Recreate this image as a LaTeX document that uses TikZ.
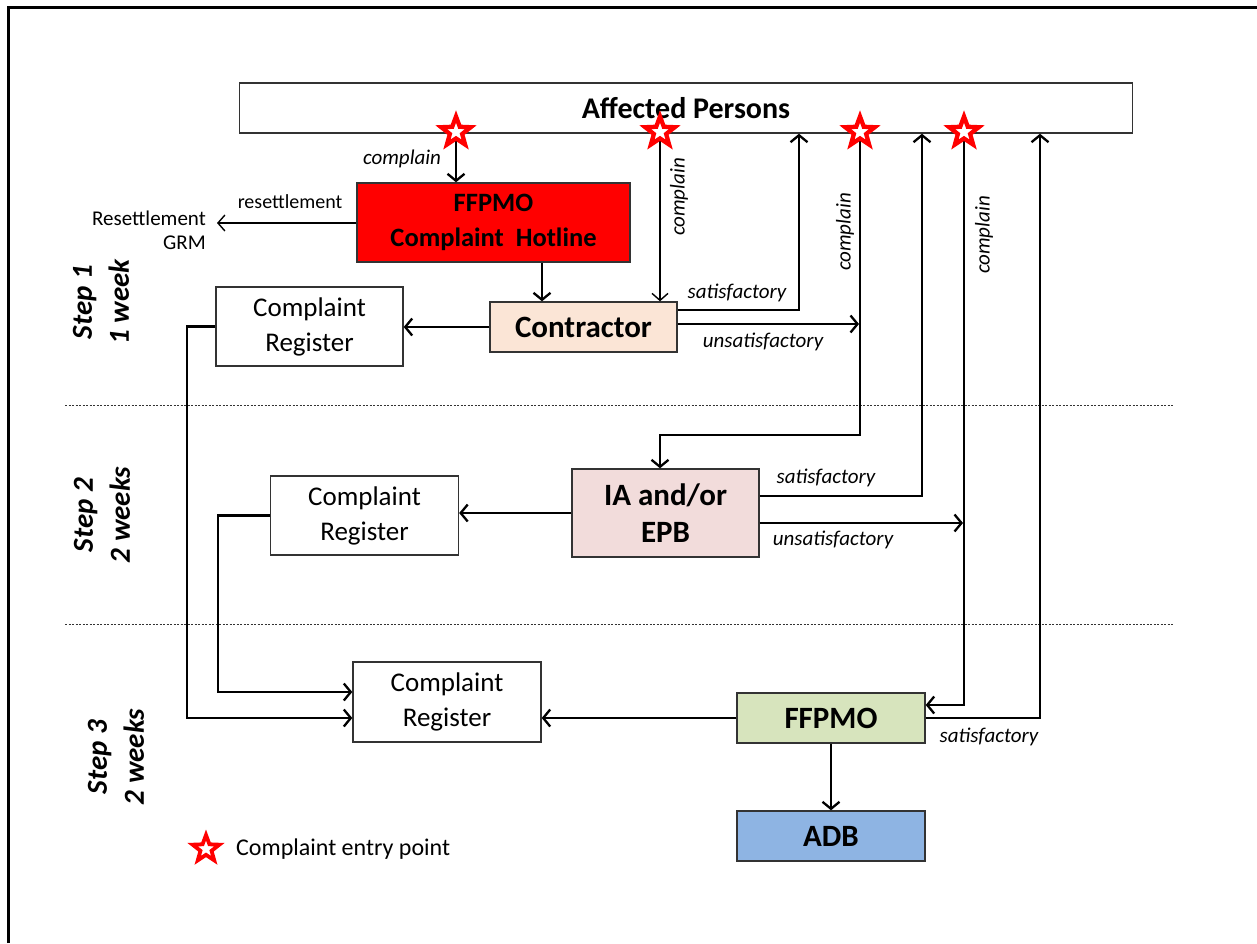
\documentclass[tikz,border=0pt]{standalone}
\usepackage{fontspec}
\setmainfont{Carlito}
\usetikzlibrary{arrows.meta,shapes.geometric}
\definecolor{hotred}{HTML}{FF0000}
\definecolor{peach}{HTML}{FBE5D6}
\definecolor{pinkbox}{HTML}{F2DCDB}
\definecolor{greenbox}{HTML}{D7E4BD}
\definecolor{bluebox}{HTML}{8EB4E3}
\begin{document}
\begin{tikzpicture}[x=1pt,y=-1pt,
  box/.style={draw=black!80, line width=1.4pt, inner sep=0pt, align=center, text=black},
  bigbold/.style={font=\fontsize{31}{37}\selectfont\bfseries},
  regtext/.style={font=\fontsize{27}{35}\selectfont},
  ar/.style={line width=2.6pt, -{Straight Barb[length=7pt,width=17pt,line width=2.3pt]}},
  thinar/.style={line width=1.3pt, -{Straight Barb[length=7pt,width=16pt,line width=1.4pt]}},
  lab/.style={font=\fontsize{21}{24}\selectfont\itshape, inner sep=0pt},
  steplab/.style={font=\fontsize{29}{37}\selectfont\bfseries\itshape, rotate=90, align=center, inner sep=0pt},
  entry/.style={star, star points=5, star point ratio=2.4, minimum size=31pt, draw=red, line width=4.3pt, fill=white, inner sep=0pt},
  sepline/.style={line width=0.9pt, dash pattern=on 2pt off 1.5pt, black!80}
]
\useasboundingbox (0,0) rectangle (1257,943);
% outer frame
\draw[line width=3pt] (8,943) -- (8,7) -- (1257,7);

% nodes
\node[box, minimum width=893, minimum height=50, font=\fontsize{30}{36}\selectfont\bfseries] (AP) at (686,108) {Affected Persons};
\node[box, fill=hotred, minimum width=273, minimum height=79, font=\fontsize{26.5}{35}\selectfont\bfseries] (HL) at (493.5,222.5) {FFPMO\\Complaint~~Hotline};
\node[box, fill=peach, minimum width=187, minimum height=50, bigbold] (CO) at (583.5,327) {Contractor};
\node[box, minimum width=187, minimum height=79, regtext] (CR1) at (309.5,326.5) {Complaint\\Register};
\node[box, fill=pinkbox, minimum width=187, minimum height=88, bigbold] (IA) at (665.5,513) {IA and/or\\EPB};
\node[box, minimum width=188, minimum height=79, regtext] (CR2) at (364.5,515.5) {Complaint\\Register};
\node[box, minimum width=188, minimum height=80, regtext] (CR3) at (447,702) {Complaint\\Register};
\node[box, fill=greenbox, minimum width=188, minimum height=50, bigbold] (FF) at (831,718) {FFPMO};
\node[box, fill=bluebox, minimum width=188, minimum height=50, bigbold] (ADB) at (831,836) {ADB};

% coordinates
\coordinate (p1) at (456,132);
\coordinate (p2) at (660,132);
\coordinate (p3) at (860,132);
\coordinate (p4) at (964,132);
\coordinate (c1) at (542,0);
\coordinate (rg) at (217,223);
\coordinate (v1) at (799,310);
\coordinate (u1) at (859,324);
\coordinate (k3) at (660,435);
\coordinate (v2) at (922,496);
\coordinate (u2) at (963,523);
\coordinate (k4) at (964,705);
\coordinate (v3) at (1040,718);
\coordinate (w1) at (187,718);
\coordinate (w2) at (218,692);

% separators
\draw[sepline] (65,405) -- (1173,405);
\draw[sepline] (65,624) -- (1173,624);

% connectors
\draw[ar] (p1) -- (p1 |- HL.north);
\draw[thinar] (HL.west |- rg) -- (rg);
\draw[ar] (HL.south -| c1) -- (CO.north -| c1);
\draw[thinar] (p2) -- (p2 |- CO.north);
\draw[ar] (CO.east |- v1) -- (v1) -- (v1 |- AP.south);
\draw[ar] (CO.east |- u1) -- (u1);
\draw[ar] (p3) -- (p3 |- k3) -- (k3) -- (k3 |- IA.north);
\draw[ar] (IA.east |- v2) -- (v2) -- (v2 |- AP.south);
\draw[ar] (IA.east |- u2) -- (u2);
\draw[ar] (p4) -- (k4) -- (FF.east |- k4);
\draw[ar] (FF.east) -- (v3) -- (v3 |- AP.south);
\draw[ar] (FF.west) -- (CR3.east |- FF.west);
\draw[ar] (FF.south) -- (ADB.north);
\draw[ar] (CO.west) -- (CR1.east |- CO.west);
\draw[ar] (IA.west) -- (CR2.east |- IA.west);
\draw[ar] (CR1.west) -- (CR1.west -| w1) -- (w1) -- (CR3.west |- w1);
\draw[ar] (CR2.west) -- (CR2.west -| w2) -- (w2) -- (CR3.west |- w2);

% entry stars
\node[entry] (s1) at (p1) {};
\node[entry] (s2) at (p2) {};
\node[entry] (s3) at (p3) {};
\node[entry] (s4) at (p4) {};

% labels
\node[lab] (l1) at (402,159) {complain};
\node[font=\fontsize{20}{24}\selectfont, inner sep=0pt] (l2) at (290,202) {resettlement};
\node[font=\fontsize{21}{24}\selectfont, align=right, anchor=east, inner sep=0pt] (l3) at (206,230) {Resettlement\\GRM};
\node[lab, rotate=90] (l4) at (679,197) {complain};
\node[lab] (l5) at (737,293) {satisfactory};
\node[lab] (l6) at (763,342) {unsatisfactory};
\node[lab, rotate=90] (l7) at (845,232) {complain};
\node[lab, rotate=90] (l8) at (984,235) {complain};
\node[lab] (l9) at (826,478) {satisfactory};
\node[lab] (l10) at (833,540) {unsatisfactory};
\node[lab] (l11) at (989,737) {satisfactory};

% steps
\node[steplab] (st1) at (101,302) {Step 1\\1 week};
\node[steplab] (st2) at (102,515) {Step 2\\2 weeks};
\node[steplab] (st3) at (116,757) {Step 3\\2 weeks};

% legend
\node[entry, minimum size=28pt, line width=3.8pt] (lg) at (206,849) {};
\node[font=\fontsize{24}{28}\selectfont, anchor=west, inner sep=0pt] (lgt) at (236,849) {Complaint entry point};
\end{tikzpicture}
\end{document}
